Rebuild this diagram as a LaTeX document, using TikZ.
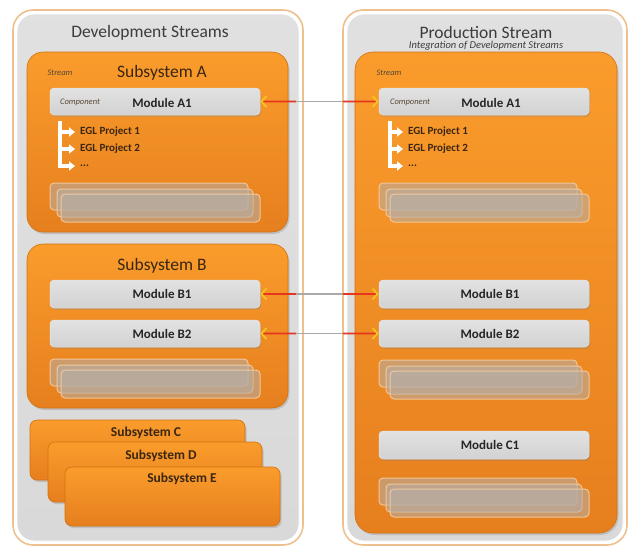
\documentclass[tikz,border=0pt]{standalone}
\usepackage{fontspec}
\setmainfont{Carlito}
\usetikzlibrary{shadows,arrows.meta,calc,fit}
\definecolor{panelgray}{HTML}{D9D9D9}
\definecolor{tanline}{HTML}{EDC08E}
\definecolor{orangeT}{HTML}{FA9C2C}
\definecolor{orangeB}{HTML}{E67F1E}
\definecolor{orangeE}{HTML}{D27212}
\definecolor{darktxt}{HTML}{3A2612}
\definecolor{titletxt}{HTML}{3C3C3C}
\definecolor{modT}{HTML}{E2E2E2}
\definecolor{modB}{HTML}{D2D2D2}
\definecolor{ghostfill}{HTML}{B5AEA8}
\definecolor{ghostedge}{HTML}{F6CFA4}
\definecolor{linkred}{HTML}{E8351E}
\definecolor{linkgray}{HTML}{A9A9A9}
\definecolor{tipyellow}{HTML}{F6C21C}
\tikzset{
  outerpanel/.style={draw=tanline, line width=1.6pt, fill=white, rounded corners=20pt, inner sep=0pt},
  innerpanel/.style={draw=white, line width=0.8pt, top color=panelgray!80!white, bottom color=panelgray, rounded corners=17pt, inner sep=0pt},
  orangebox/.style={rounded corners=16pt, inner sep=0pt, draw=orangeE, line width=0.6pt, top color=orangeT, bottom color=orangeB, drop shadow={opacity=0.3, shadow xshift=1.5pt, shadow yshift=-2pt}},
  subbox/.style={orangebox, rounded corners=7pt},
  modbox/.style={rounded corners=4pt, inner sep=0pt, draw=white!80!gray, line width=0.5pt, top color=modT, bottom color=modB, drop shadow={opacity=0.4, shadow xshift=1pt, shadow yshift=-1.5pt}},
  ghost/.style={rounded corners=4pt, inner sep=0pt, fill=ghostfill, fill opacity=0.55, draw=ghostedge, draw opacity=0.85, line width=1pt},
  titletext/.style={font=\fontsize{17.5}{20}\selectfont, text=titletxt, inner sep=0pt},
  subtitle/.style={font=\fontsize{10.5}{12}\selectfont\itshape, text=titletxt, inner sep=0pt},
  subtext/.style={font=\fontsize{17.5}{20}\selectfont, text=darktxt, inner sep=0pt},
  smallsub/.style={font=\fontsize{13.5}{16}\selectfont\bfseries, text=darktxt, inner sep=0pt},
  tagtext/.style={font=\fontsize{8.5}{10}\selectfont\itshape, text=darktxt!85!white, inner sep=0pt},
  modtext/.style={font=\fontsize{13}{15}\selectfont\bfseries, text=black!85, inner sep=0pt},
  egltext/.style={font=\fontsize{11}{13}\selectfont\bfseries, text=darktxt, inner sep=0pt, anchor=west},
  bracket/.style={draw=white, line width=3.2pt, -{Triangle[length=6pt,width=9pt]}},
  linkline/.style={draw=linkgray, line width=1.8pt},
  linkend/.style={draw=linkred, line width=1.8pt, {Straight Barb[color=tipyellow,length=5pt,width=11pt,line width=1.8pt]}-}
}
\begin{document}
\begin{tikzpicture}[x=1pt,y=-1pt]
\useasboundingbox (0,0) rectangle (629,547);

% ---------- outer panels ----------
\node[outerpanel, fit={(13,10) (303,545)}] (devOuter) {};
\node[innerpanel, fit={(17,14) (299,541)}] (devInner) {};
\node[outerpanel, fit={(343,10) (627,545)}] (prodOuter) {};
\node[innerpanel, fit={(347,14) (623,541)}] (prodInner) {};

\node[titletext] (devTitle) at (150,33) {Development Streams};
\node[titletext] (prodTitle) at (486,32) {Production Stream};
\node[subtitle] (prodSub) at (486,46) {Integration of Development Streams};

% ---------- Subsystem A ----------
\node[orangebox, fit={(27,52) (288,232)}] (subA) {};
\node[tagtext] (streamA) at (60,73) {Stream};
\node[subtext] (subAtitle) at (162,73) {Subsystem A};
\node[modbox, fit={(50,88) (260,115)}] (mA1L) {};
\node[tagtext] (compL) at (80,102) {Component};
\node[modtext] (mA1Ltxt) at (162,103) {Module A1};
\node[egltext] (eglL1) at (80,132) {EGL Project 1};
\node[egltext] (eglL2) at (80,149) {EGL Project 2};
\node[egltext] (eglL3) at (80,166) {...};
\coordinate (brL0) at (60,121);
\coordinate (brL1) at (60,132);
\coordinate (brL2) at (60,149);
\draw[bracket] (brL0) |- ([xshift=-5pt]eglL1.west);
\draw[bracket] (brL1) |- ([xshift=-5pt]eglL2.west);
\draw[bracket] (brL2) |- ([xshift=-5pt]eglL3.west);
\node[ghost, fit={(50,183) (248,210)}] (gAL1) {};
\node[ghost, fit={(57,189) (253,217)}] (gAL2) {};
\node[ghost, fit={(61,194) (260,222)}] (gAL3) {};

% ---------- Subsystem B ----------
\node[orangebox, fit={(27,244) (288,408)}] (subB) {};
\node[subtext] (subBtitle) at (162,266) {Subsystem B};
\node[modbox, fit={(50,280) (260,308)}] (mB1L) {};
\node[modtext] at (162,294) {Module B1};
\node[modbox, fit={(50,320) (260,347)}] (mB2L) {};
\node[modtext] at (162,334) {Module B2};
\node[ghost, fit={(50,359) (248,386)}] (gBL1) {};
\node[ghost, fit={(57,365) (253,393)}] (gBL2) {};
\node[ghost, fit={(61,370) (260,398)}] (gBL3) {};

% ---------- Subsystems C, D, E ----------
\node[subbox, fit={(30,420) (245,480)}] (subC) {};
\node[smallsub] at (146,433) {Subsystem C};
\node[subbox, fit={(48,442) (262,502)}] (subD) {};
\node[smallsub] at (161,456) {Subsystem D};
\node[subbox, fit={(65,467) (280,526)}] (subE) {};
\node[smallsub] at (182,479) {Subsystem E};

% ---------- Production stream ----------
\node[orangebox, rounded corners=18pt, fit={(355,52) (617,533)}] (prodStream) {};
\node[tagtext] (streamR) at (389,73) {Stream};
\node[modbox, fit={(379,88) (589,115)}] (mA1R) {};
\node[tagtext] (compR) at (410,102) {Component};
\node[modtext] at (491,103) {Module A1};
\node[egltext] (eglR1) at (408,132) {EGL Project 1};
\node[egltext] (eglR2) at (408,149) {EGL Project 2};
\node[egltext] (eglR3) at (408,166) {...};
\coordinate (brR0) at (390,121);
\coordinate (brR1) at (390,132);
\coordinate (brR2) at (390,149);
\draw[bracket] (brR0) |- ([xshift=-5pt]eglR1.west);
\draw[bracket] (brR1) |- ([xshift=-5pt]eglR2.west);
\draw[bracket] (brR2) |- ([xshift=-5pt]eglR3.west);
\node[ghost, fit={(379,183) (577,210)}] (gAR1) {};
\node[ghost, fit={(386,189) (582,217)}] (gAR2) {};
\node[ghost, fit={(390,194) (589,222)}] (gAR3) {};

\node[modbox, fit={(379,280) (589,308)}] (mB1R) {};
\node[modtext] at (490,294) {Module B1};
\node[modbox, fit={(379,320) (589,347)}] (mB2R) {};
\node[modtext] at (490,334) {Module B2};
\node[ghost, fit={(379,360) (577,387)}] (gBR1) {};
\node[ghost, fit={(386,366) (582,394)}] (gBR2) {};
\node[ghost, fit={(390,371) (589,399)}] (gBR3) {};

\node[modbox, fit={(379,431) (589,459)}] (mC1R) {};
\node[modtext] at (490,445) {Module C1};
\node[ghost, fit={(379,478) (577,505)}] (gCR1) {};
\node[ghost, fit={(386,484) (582,512)}] (gCR2) {};
\node[ghost, fit={(390,489) (589,517)}] (gCR3) {};

% ---------- connectors ----------
\foreach \a/\b in {mA1L/mA1R, mB1L/mB1R, mB2L/mB2R}{
  \draw[linkline] (\a.east) -- (\b.west);
  \draw[linkend] (\a.east) -- ($(\a.east)!0.3!(\b.west)$);
  \draw[linkend] (\b.west) -- ($(\b.west)!0.3!(\a.east)$);
}
\end{tikzpicture}
\end{document}
